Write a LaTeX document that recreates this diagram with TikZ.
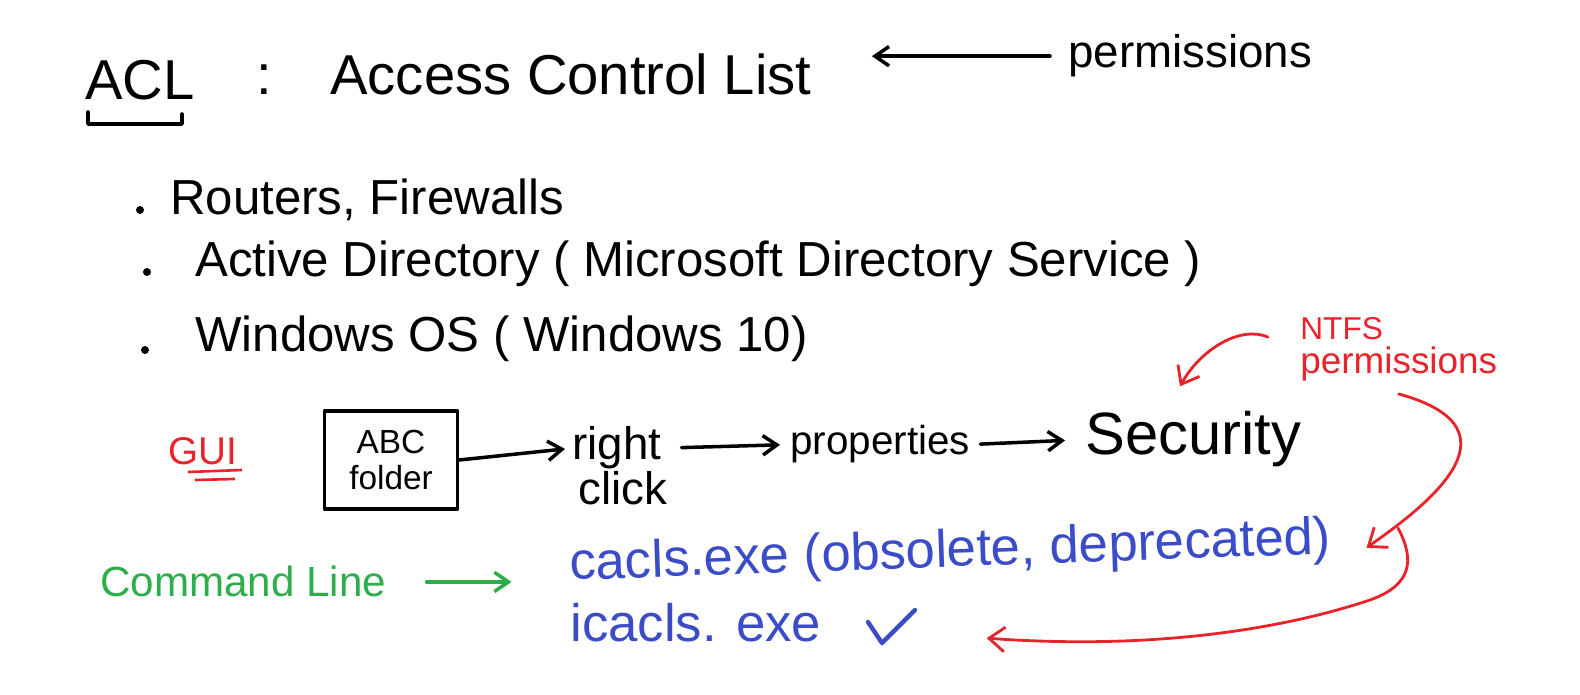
\documentclass[tikz,border=0pt]{standalone}
\usepackage{fontspec}
\setmainfont{Liberation Sans}
\definecolor{inkred}{HTML}{E8232A}
\definecolor{inkgreen}{HTML}{2EAE4A}
\definecolor{inkblue}{HTML}{3B4CC8}
\usetikzlibrary{calc, arrows.meta}
\newcommand{\hand}[2]{\fontsize{#1}{#2}\selectfont}
\tikzset{
  word/.style={anchor=base west, inner sep=0pt},
  pen/.style={line width=2pt, line cap=round, line join=round},
  penarrow/.style={pen, -{Straight Barb[length=8pt, width=11pt]}},
  redpen/.style={inkred, line width=1.6pt, line cap=round, -{Straight Barb[length=9pt, width=14pt]}},
}

\begin{document}
\begin{tikzpicture}[x=0.02cm, y=-0.02cm]
  \useasboundingbox (0,0) rectangle (1580,695);

  \node[word, font=\hand{32pt}{34pt}] (acl) at (85,100) {ACL};
  \draw[pen] (88,112) -- (88,124) -- (182,124) -- (182,114);
  \node[word, font=\hand{32pt}{34pt}] (colon) at (256,95) {:};
  \node[word, font=\hand{32pt}{34pt}] (acltext) at (330,95) {Access Control List};
  \node[word, font=\hand{26pt}{28pt}] (perm) at (1068,68) {permissions};
  \draw[penarrow] ([xshift=-0.36cm]perm.west) -- ([xshift=1.2cm]acltext.east |- perm.west);

  \fill (140,210) circle (4);
  \node[word, font=\hand{28pt}{30pt}] (routers) at (170,215) {Routers, Firewalls};
  \fill (147,272) circle (4);
  \node[word, font=\hand{28pt}{30pt}] (active) at (195,277) {Active Directory ( Microsoft Directory Service )};
  \fill (145,350) circle (4);
  \node[word, font=\hand{28pt}{30pt}] (windows) at (195,352) {Windows OS ( Windows 10)};

  \node[word, font=\hand{22pt}{24pt}, text=inkred] (gui) at (168,465) {GUI};
  \draw[inkred, line width=1.5pt] (188,472) -- (242,470);
  \draw[inkred, line width=1.5pt] (195,480) -- (235,479);

  \node[draw, pen, minimum width=2.66cm, minimum height=1.96cm, align=center,
        font=\hand{19pt}{21pt}] (folder) at (391,460) {ABC\\folder};
  \node[word, font=\hand{26pt}{28pt}] (right) at (572,460) {right};
  \node[word, font=\hand{26pt}{28pt}] (click) at (578,505) {click};
  \node[word, font=\hand{23pt}{25pt}] (props) at (790,455) {properties};
  \node[word, font=\hand{34pt}{36pt}] (security) at (1085,455) {Security};
  \draw[penarrow, shorten >=4pt] (folder.east) -- (right.west);
  \draw[penarrow, shorten <=0.4cm, shorten >=0.2cm] (right.east) -- (props.west);
  \draw[penarrow, shorten <=0.2cm, shorten >=0.4cm] (props.east) -- (security.west);

  \node[word, font=\hand{18pt}{20pt}, text=inkred] (ntfs) at (1300,340) {NTFS};
  \node[word, font=\hand{21pt}{23pt}, text=inkred] (ntfsperm) at (1300,374) {permissions};

  \node[word, font=\hand{24pt}{26pt}, text=inkgreen] (cmdline) at (100,597) {Command Line};
  \node[word, font=\hand{30pt}{32pt}, text=inkblue, rotate=2] (cacls) at (570,580) {cacls.exe (obsolete, deprecated)};
  \node[word, font=\hand{30pt}{32pt}, text=inkblue] (icacls) at (570,642) {icacls. exe};
  \draw[inkblue, line width=2.5pt, line cap=round, line join=round]
    (868,622) -- (882,643) -- (915,610);
  \draw[inkgreen, line width=2pt, line cap=round, -{Straight Barb[length=8pt, width=11pt]},
        shorten <=0.8cm, shorten >=1.16cm] (cmdline.east) -- (cacls.west |- cmdline.east);

  \coordinate (sectip) at ($(security.north west)+(95,-25)$);
  \coordinate (caclstip) at ($(cacls.east)+(35,8)$);
  \coordinate (branch) at (1398,528);
  \coordinate (icaclstip) at ($(icacls.east)+(165,15)$);
  \draw[redpen] ($(ntfs.west)+(-32,8)$) .. controls (1240,325) and (1200,350) .. (sectip);
  \draw[redpen] ($(ntfsperm.south)+(0,12)$) .. controls (1530,430) and (1420,510) .. (caclstip);
  \draw[redpen] (branch) .. controls (1415,560) and (1412,585) .. (1370,600)
    .. controls (1280,630) and (1150,650) .. (icaclstip);
\end{tikzpicture}
\end{document}
